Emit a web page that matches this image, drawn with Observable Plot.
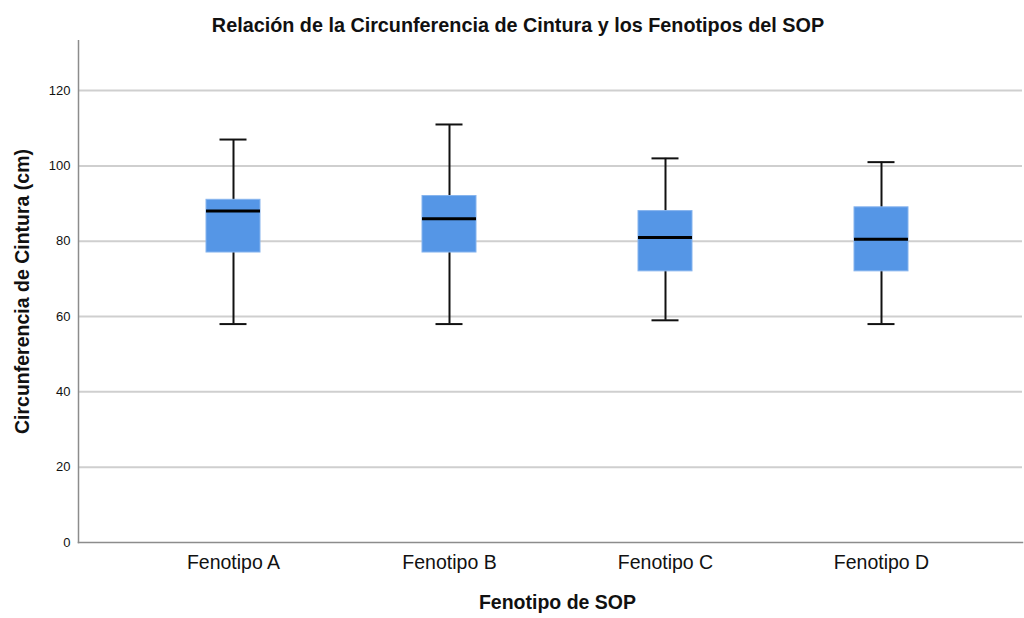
<!DOCTYPE html>
<html><head><meta charset="utf-8">
<script src="https://cdn.jsdelivr.net/npm/d3@7"></script>
<script src="https://cdn.jsdelivr.net/npm/@observablehq/plot@0.6"></script>
<style>
body{margin:0;background:#fff;font-family:"Liberation Sans",Arial,sans-serif;width:1024px;height:618px;overflow:hidden}
#title{position:relative;height:40px;}
#title span{position:absolute;left:0;right:0;top:14px;text-align:center;padding-left:12px;font-size:19.8px;font-weight:bold;color:#111;}
#chart svg{display:block}
</style></head><body>
<div id="title"><span>Relación de la Circunferencia de Cintura y los Fenotipos del SOP</span></div>
<div id="chart"></div>
<script>
const categories = ["Fenotipo A", "Fenotipo B", "Fenotipo C", "Fenotipo D"];
const whiskerLow = [58, 58, 59, 58];
const q1 = [77, 77, 72, 72];
const median = [88, 86, 81, 80.5];
const q3 = [91, 92, 88, 89];
const whiskerHigh = [107, 111, 102, 101];
const yTicks = [0, 20, 40, 60, 80, 100, 120];
const yLabel = "Circunferencia de Cintura (cm)";
const xLabel = "Fenotipo de SOP";

const data = categories.map((c, i) => ({cat: c, lo: whiskerLow[i], q1: q1[i], med: median[i], q3: q3[i], hi: whiskerHigh[i]}));

const chart = Plot.plot({
  width: 1024,
  height: 578,
  marginTop: 0,
  marginLeft: 78,
  marginRight: 2,
  marginBottom: 76,
  style: {fontFamily: "'Liberation Sans', Arial, sans-serif", fontSize: "13px", color: "#111", background: "#fff"},
  x: {type: "band", domain: categories, range: [125, 989], padding: 0},
  y: {domain: [0, 133.3]},
  marks: [
    Plot.gridY(yTicks.filter(d => d > 0), {stroke: "#cfcfcf", strokeOpacity: 1, strokeWidth: 2}),
    Plot.ruleX(data, {x: "cat", y1: "lo", y2: "hi", stroke: "#111", strokeWidth: 2}),
    Plot.barY(data, {x: "cat", y1: "q1", y2: "q3", fill: "#5596e6", stroke: "#86b4ee", strokeWidth: 1, insetLeft: 81, insetRight: 81}),
    Plot.tickY(data, {x: "cat", y: "med", stroke: "#000", strokeWidth: 3, insetLeft: 81, insetRight: 81}),
    Plot.tickY(data, {x: "cat", y: "lo", stroke: "#111", strokeWidth: 2, insetLeft: 94.5, insetRight: 94.5}),
    Plot.tickY(data, {x: "cat", y: "hi", stroke: "#111", strokeWidth: 2, insetLeft: 94.5, insetRight: 94.5}),
    Plot.frame({anchor: "left", stroke: "#8c8c8c", strokeWidth: 1.5}),
    Plot.frame({anchor: "bottom", stroke: "#8c8c8c", strokeWidth: 1.5}),
    Plot.axisY(yTicks, {tickSize: 0, tickPadding: 8, fontSize: 13, label: null}),
    Plot.axisX({tickSize: 0, tickPadding: 13, fontSize: 19.5, label: null}),
    Plot.text([yLabel], {frameAnchor: "left", textAnchor: "middle", rotate: -90, dx: -56, fontSize: 19.5, fontWeight: "bold", fill: "#111"}),
    Plot.text([xLabel], {frameAnchor: "bottom", dx: 7, dy: 66, fontSize: 19.5, fontWeight: "bold", fill: "#111"})
  ]
});
document.getElementById("chart").appendChild(chart);
</script>
</body></html>
